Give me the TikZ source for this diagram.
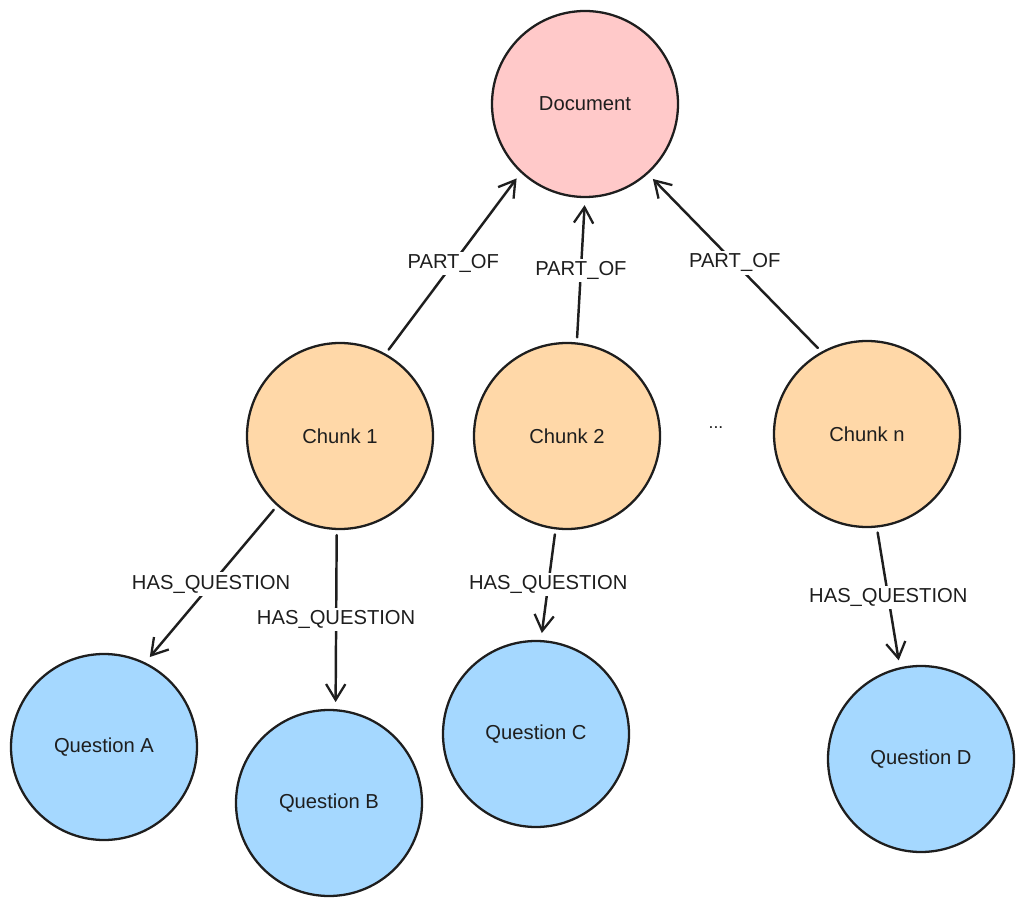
\documentclass[tikz,border=0pt]{standalone}
\usepackage{fontspec}
\setmainfont{Liberation Sans}
\usetikzlibrary{arrows.meta}
\definecolor{ink}{HTML}{1E1E1E}
\definecolor{docfill}{HTML}{FFC9C9}
\definecolor{chunkfill}{HTML}{FFD8A8}
\definecolor{qfill}{HTML}{A5D8FF}
\tikzset{
  blob/.style={circle, draw=ink, line width=1.3pt, minimum size=186*0.02cm, inner sep=0pt,
    font=\fontsize{11.5}{13}\selectfont, text=ink},
  docnode/.style={blob, fill=docfill},
  chunknode/.style={blob, fill=chunkfill},
  qnode/.style={blob, fill=qfill},
  rel/.style={draw=ink, line width=1.4pt, line cap=round,
    -{Straight Barb[length=9pt,width=11pt,line width=1.3pt]},
    shorten <=5*0.02cm, shorten >=7*0.02cm},
  rellabel/.style={fill=white, inner sep=1.5pt, text=ink, font=\fontsize{11.5}{13}\selectfont}
}
\begin{document}
\begin{tikzpicture}[x=0.02cm, y=-0.02cm]
\useasboundingbox (0,0) rectangle (1024,908);
\node[docnode] (doc) at (585,104) {Document};
\node[chunknode] (c1) at (340,436) {Chunk 1};
\node[chunknode] (c2) at (567,436) {Chunk 2};
\node[chunknode] (cn) at (867,434) {Chunk n};
\node[text=ink] (dots) at (716,428) {...};
\node[qnode] (qa) at (104,747) {Question A};
\node[qnode] (qb) at (329,803) {Question B};
\node[qnode] (qc) at (536,734) {Question C};
\node[qnode] (qd) at (921,759) {Question D};
\draw[rel] (c1.61) -- node[rellabel] {PART\_OF} (doc.227);
\draw[rel] (c2.84) -- node[rellabel] {PART\_OF} (doc.270);
\draw[rel] (cn.119) -- node[rellabel] {PART\_OF} (doc.312);
\draw[rel] (c1.228) -- node[rellabel] {HAS\_QUESTION} (qa.64);
\draw[rel] (c1.268) -- node[rellabel] {HAS\_QUESTION} (qb.86);
\draw[rel] (c2.263) -- node[rellabel] {HAS\_QUESTION} (qc.87);
\draw[rel] (cn.276) -- node[rellabel] {HAS\_QUESTION} (qd.103);
\end{tikzpicture}
\end{document}
